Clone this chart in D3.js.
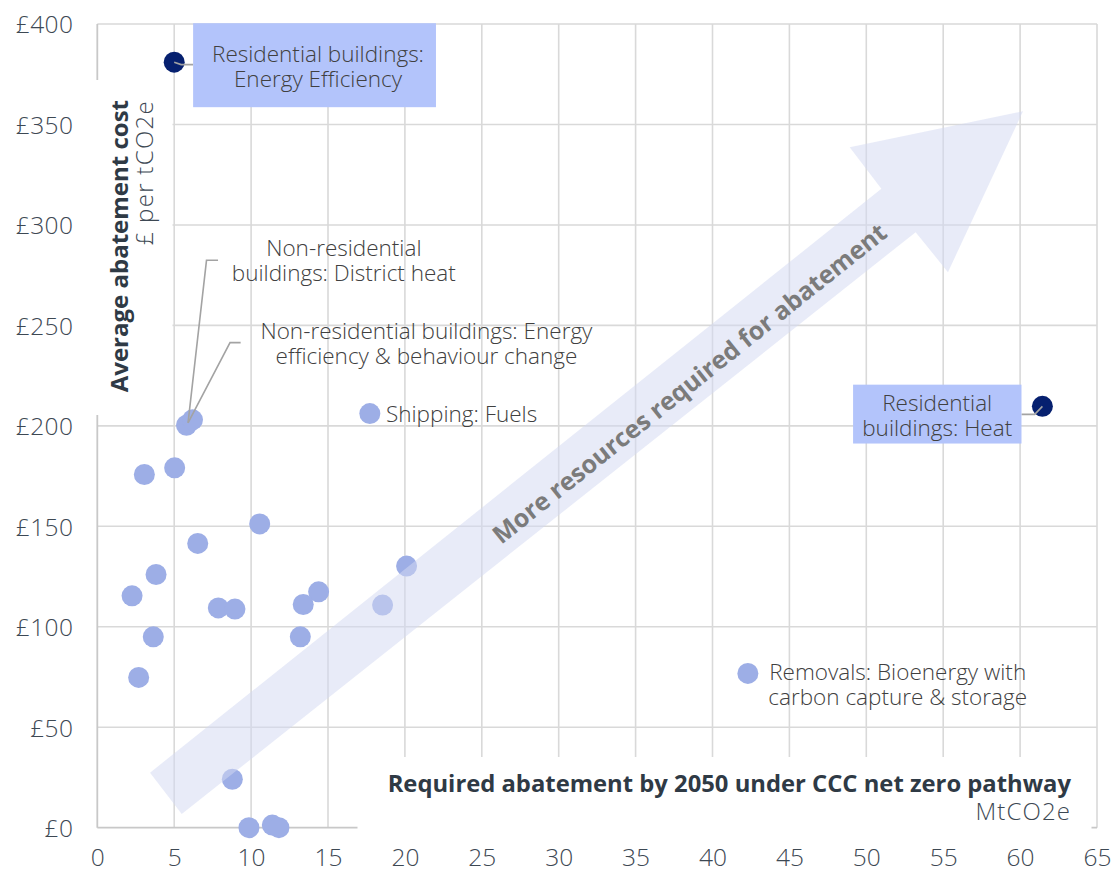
<!DOCTYPE html>
<html>
<head>
<meta charset="utf-8">
<script src="https://cdn.jsdelivr.net/npm/d3@7"></script>
<style>
  html, body { margin: 0; padding: 0; background: #ffffff; }
  svg { display: block; font-family: "Open Sans", Lato, "Noto Sans", sans-serif; }
</style>
</head>
<body>
<svg id="chart" width="1114" height="872"></svg>
<script>
// ---------------- DATA ----------------
const xTicks = [0, 5, 10, 15, 20, 25, 30, 35, 40, 45, 50, 55, 60, 65];
const yTicks = [0, 50, 100, 150, 200, 250, 300, 350, 400];
const yTickLabels = ["£0", "£50", "£100", "£150", "£200", "£250", "£300", "£350", "£400"];

// Abatement (MtCO2e) and cost (£ per tCO2e) for each measure
const pointX = [3.06, 5.03, 10.56, 6.53, 3.82, 2.26, 7.87, 8.95, 14.39, 13.39, 20.11, 18.55,
                3.64, 13.2, 2.69, 8.78, 9.86, 11.38, 11.81, 5.8, 6.19, 17.72, 42.3, 5.0, 61.45];
const pointY = [175.8, 179.1, 151.2, 141.5, 126.0, 115.4, 109.4, 108.8, 117.4, 111.1, 130.2, 110.8,
                95.0, 95.0, 74.8, 24.1, 0.0, 1.3, 0.0, 200.3, 203.0, 206.1, 76.8, 381.0, 209.7];
const pointHighlight = [0,0,0,0,0,0,0,0,0,0,0,0,0,0,0,0,0,0,0,0,0,0,0,1,1];

const xTitle = "Required abatement by 2050 under CCC net zero pathway";
const xUnit = "MtCO2e";
const yTitle = "Average abatement cost";
const yUnit = "£ per tCO2e";
const arrowText = "More resources required for abatement";

// annotation texts
const labelDistrict = ["Non-residential", "buildings: District heat"];
const labelNonResEE = ["Non-residential buildings: Energy", "efficiency & behaviour change"];
const labelShipping = ["Shipping: Fuels"];
const labelRemovals = ["Removals: Bioenergy with", "carbon capture & storage"];
const labelResEE = ["Residential buildings:", "Energy Efficiency"];
const labelResHeat = ["Residential", "buildings: Heat"];

// ---------------- LAYOUT ----------------
const svg = d3.select("#chart");
const x = d3.scaleLinear().domain([0, 65]).range([97.3, 1097]);
const y = d3.scaleLinear().domain([0, 400]).range([827.7, 24]);

const gridColor = "#d9d9d9";
const axisColor = "#c8c8c8";
const tickColor = "#3d4853";
const labelColor = "#404040";
const titleColor = "#2f3a45";
const lightPoint = "#9daee6";
const darkPoint = "#06206f";
const boxFill = "#b3c4fb";
const leaderColor = "#a3a3a3";
const labelFont = 22.5;
const lineGap = 25;

svg.append("rect").attr("width", 1114).attr("height", 872).attr("fill", "#fff");

// gridlines
const grid = svg.append("g");
grid.selectAll("line.v").data(xTicks.filter(d => d > 0)).join("line")
  .attr("x1", d => x(d)).attr("x2", d => x(d))
  .attr("y1", y(400)).attr("y2", y(0))
  .attr("stroke", gridColor).attr("stroke-width", 1.6);
grid.selectAll("line.h").data(yTicks.filter(d => d > 0)).join("line")
  .attr("x1", x(0)).attr("x2", x(65))
  .attr("y1", d => y(d)).attr("y2", d => y(d))
  .attr("stroke", gridColor).attr("stroke-width", 1.6);

// axis lines
svg.append("line").attr("x1", x(0)).attr("x2", x(0)).attr("y1", y(400)).attr("y2", y(0))
  .attr("stroke", axisColor).attr("stroke-width", 1.8);
svg.append("line").attr("x1", x(0)).attr("x2", x(65)).attr("y1", y(0)).attr("y2", y(0))
  .attr("stroke", axisColor).attr("stroke-width", 1.8);

// white panels behind axis titles
svg.append("rect").attr("x", x(0) - 3).attr("y", 80).attr("width", 172.5 - x(0) + 3).attr("height", 415 - 80)
  .attr("fill", "#fff");
svg.append("rect").attr("x", 357.5).attr("y", 757).attr("width", 1091.5 - 357.5).attr("height", 74)
  .attr("fill", "#fff");

// tick labels
const yAxis = d3.axisLeft(y).tickValues(yTicks).tickFormat((d, i) => yTickLabels[i]).tickSize(0).tickPadding(24);
const gy = svg.append("g").attr("transform", `translate(${x(0)},0)`).call(yAxis);
gy.select(".domain").remove();
gy.selectAll("text").attr("font-size", 24.5).attr("font-weight", 300).attr("fill", tickColor)
  .attr("font-family", "'Open Sans', sans-serif").attr("letter-spacing", 0.4).attr("dy", "0.36em");

const xAxis = d3.axisBottom(x).tickValues(xTicks).tickFormat(d3.format("d")).tickSize(0).tickPadding(0);
const gx = svg.append("g").attr("transform", `translate(0,${y(0)})`).call(xAxis);
gx.select(".domain").remove();
gx.selectAll("text").attr("font-size", 24.5).attr("font-weight", 300).attr("fill", tickColor)
  .attr("font-family", "'Open Sans', sans-serif").attr("dy", null).attr("y", 38.5);

// axis titles
const yt = svg.append("g");
yt.append("text").attr("transform", `translate(128,100) rotate(-90)`).attr("text-anchor", "end")
  .attr("font-size", 24).attr("font-weight", 700).attr("fill", titleColor).text(yTitle);
yt.append("text").attr("transform", `translate(153,100) rotate(-90)`).attr("text-anchor", "end")
  .attr("font-size", 24).attr("font-weight", 300).attr("letter-spacing", 1.3).attr("fill", tickColor).text(yUnit);

svg.append("text").attr("x", 1071).attr("y", 792).attr("text-anchor", "end")
  .attr("font-size", 23.8).attr("font-weight", 700).attr("fill", titleColor).text(xTitle);
svg.append("text").attr("x", 1071).attr("y", 820).attr("text-anchor", "end")
  .attr("font-size", 24).attr("font-weight", 300).attr("letter-spacing", 1.1).attr("fill", tickColor).text(xUnit);

// points
const pts = d3.range(pointX.length);
svg.append("g").selectAll("circle").data(pts).join("circle")
  .attr("cx", i => x(pointX[i])).attr("cy", i => y(pointY[i])).attr("r", 10.5)
  .attr("fill", i => pointHighlight[i] ? darkPoint : lightPoint);

// leader lines (data coordinates)
const leaders = [
  [[5.9, 201.5], [7.1, 282.4], [7.85, 282.4]],
  [[5.9, 201.5], [8.63, 241.4], [9.32, 241.4]],
  [[5.0, 381.0], [5.45, 379.8], [6.23, 379.8]],
  [[61.45, 209.7], [60.95, 205.7], [60.09, 205.7]]
];
const lineGen = d3.line().x(d => x(d[0])).y(d => y(d[1]));
svg.append("g").selectAll("path").data(leaders).join("path")
  .attr("d", lineGen).attr("fill", "none").attr("stroke", leaderColor).attr("stroke-width", 1.6);

// big arrow (data coordinates), translucent, over the points
const arrowPts = [[3.43, 27.4], [50.98, 318.0], [48.92, 338.7], [60.19, 356.6],
                  [55.31, 276.5], [53.21, 296.4], [5.49, 6.8]];
svg.append("path").attr("d", lineGen(arrowPts) + "Z")
  .attr("fill", "#d3d9f2").attr("fill-opacity", 0.52);

const ang = Math.atan2(y(318.0) - y(27.4), x(50.98) - x(3.43)) * 180 / Math.PI;
svg.append("text")
  .attr("transform", `translate(${x(38.5)},${y(221.2)}) rotate(${ang})`)
  .attr("text-anchor", "middle").attr("dy", "0.36em")
  .attr("font-size", 25).attr("font-weight", 700).attr("fill", "#7b7b7b").text(arrowText);

// boxes
const boxes = [
  { x0: 6.23, x1: 22.02, y0: 400.4, y1: 358.6 },
  { x0: 49.14, x1: 60.09, y0: 220.5, y1: 191.2 }
];
svg.append("g").selectAll("rect").data(boxes).join("rect")
  .attr("x", d => x(d.x0)).attr("y", d => y(d.y0))
  .attr("width", d => x(d.x1) - x(d.x0)).attr("height", d => y(d.y1) - y(d.y0))
  .attr("fill", boxFill);

// annotation labels: [lines, anchor x, first-line centre y, anchor]
const labels = [
  [labelDistrict, 16.03, 288.8, "middle"],
  [labelNonResEE, 21.4, 247.1, "middle"],
  [labelShipping, 18.77, 206.1, "start"],
  [labelRemovals, 52.04, 77.4, "middle"],
  [labelResEE, 14.35, 385.3, "middle"],
  [labelResHeat, 54.61, 211.5, "middle"]
];
const lg = svg.append("g");
labels.forEach(([lines, ax, ay, anchor]) => {
  const t = lg.append("text").attr("text-anchor", anchor)
    .attr("font-size", labelFont).attr("font-weight", 300).attr("fill", labelColor);
  lines.forEach((s, k) => {
    t.append("tspan").attr("x", x(ax)).attr("y", y(ay) + k * lineGap + labelFont * 0.36).text(s);
  });
});
</script>
</body>
</html>
